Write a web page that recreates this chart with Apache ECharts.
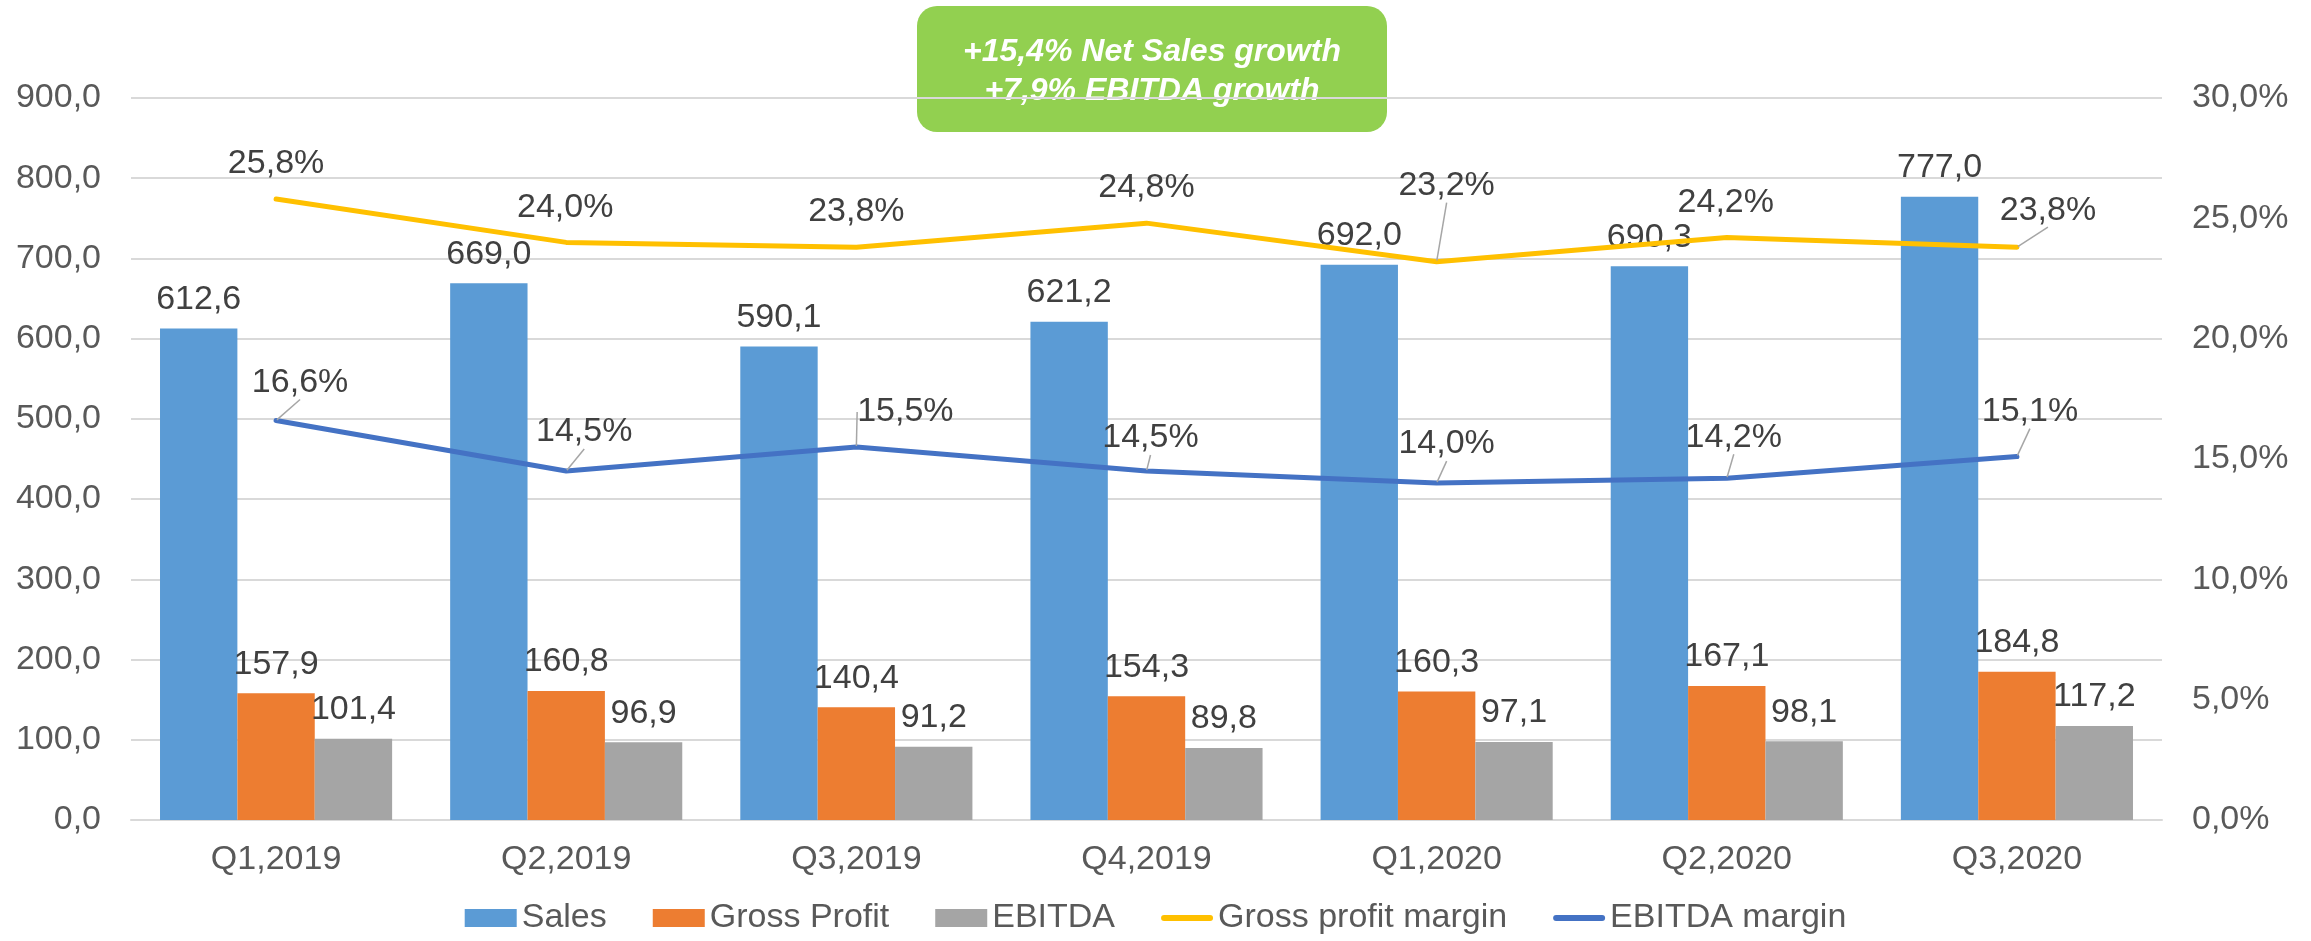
<!DOCTYPE html>
<html>
<head>
<meta charset="utf-8">
<script src="https://cdn.jsdelivr.net/npm/echarts@6/dist/echarts.min.js"></script>
<style>
  html, body { margin: 0; padding: 0; background: #fff; }
  #chart { width: 2311px; height: 941px; }
</style>
</head>
<body>
<div id="chart"></div>
<script>
// data
var quarters = ['Q1,2019', 'Q2,2019', 'Q3,2019', 'Q4,2019', 'Q1,2020', 'Q2,2020', 'Q3,2020'];
var sales = [612.6, 669.0, 590.1, 621.2, 692.0, 690.3, 777.0];
var grossProfit = [157.9, 160.8, 140.4, 154.3, 160.3, 167.1, 184.8];
var ebitda = [101.4, 96.9, 91.2, 89.8, 97.1, 98.1, 117.2];
var grossMargin = [25.8, 24.0, 23.8, 24.8, 23.2, 24.2, 23.8];
var ebitdaMargin = [16.6, 14.5, 15.5, 14.5, 14.0, 14.2, 15.1];
var headline = ['+15,4% Net Sales growth', '+7,9% EBITDA growth'];

// label nudges + which ones get a leader line (as placed in the original)
var grossLabelShift = [[0, -35], [-1, -35], [0, -36], [0, -36], [10, -76], [-1, -35], [31, -37]];
var grossLeader = [false, false, false, false, true, false, true];
var ebitdaLabelShift = [[24, -38], [18, -39], [49, -35], [4, -33], [10, -39], [7, -41], [13, -45]];
var ebitdaLeader = [true, true, true, true, true, true, true];

var FONT = '"Liberation Sans", Arial, sans-serif';
var FS = 34;

function fmt1(v) {
    return v.toFixed(1).replace('.', ',');
}

var myChart = echarts.init(document.getElementById('chart'));

function barSeries(name, data, color) {
    return {
        name: name,
        type: 'bar',
        data: data,
        barGap: '0%',
        barCategoryGap: '20%',
        itemStyle: { color: color },
        label: {
            show: true,
            position: 'top',
            distance: 12,
            color: '#404040',
            fontSize: FS,
            fontFamily: FONT,
            formatter: function (p) { return fmt1(p.value); }
        }
    };
}

function lineSeries(name, values, color, shift, leader) {
    return {
        name: name,
        type: 'line',
        yAxisIndex: 1,
        data: values.map(function (v, i) {
            return { value: v, labelLine: { show: leader[i] } };
        }),
        symbol: 'circle',
        symbolSize: 2,
        z: 5,
        lineStyle: { color: color, width: 5, cap: 'round', join: 'round' },
        itemStyle: { color: color },
        label: {
            show: true,
            position: 'top',
            distance: 0,
            color: '#404040',
            fontSize: FS,
            fontFamily: FONT,
            formatter: function (p) { return fmt1(p.value) + '%'; }
        },
        labelLine: {
            show: true,
            lineStyle: { color: '#a6a6a6', width: 1.5 }
        },
        labelLayout: function (p) {
            var s = shift[p.dataIndex];
            return { dx: s[0], dy: s[1] + 18 };
        }
    };
}

var lineIcon = 'path://M3,0 L49,0 A3,3 0 0 1 49,6 L3,6 A3,3 0 0 1 3,0 Z';

var option = {
    animation: false,
    backgroundColor: '#fff',
    textStyle: { fontFamily: FONT },
    grid: {
        left: 131,
        right: 149,
        top: 98,
        bottom: 121
    },
    legend: {
        bottom: 1,
        itemWidth: 52,
        itemHeight: 18,
        itemGap: 46,
        textStyle: { color: '#595959', fontSize: FS, fontFamily: FONT },
        data: [
            { name: 'Sales', icon: 'rect' },
            { name: 'Gross Profit', icon: 'rect' },
            { name: 'EBITDA', icon: 'rect' },
            { name: 'Gross profit margin', icon: lineIcon },
            { name: 'EBITDA margin', icon: lineIcon }
        ]
    },
    xAxis: {
        type: 'category',
        data: quarters,
        axisLine: { lineStyle: { color: '#d9d9d9', width: 2 } },
        axisTick: { show: false },
        axisLabel: { color: '#595959', fontSize: FS, fontFamily: FONT, margin: 23 }
    },
    yAxis: [
        {
            type: 'value',
            min: 0,
            max: 900,
            interval: 100,
            axisLine: { show: false },
            axisTick: { show: false },
            splitLine: { lineStyle: { color: '#d9d9d9', width: 2 } },
            axisLabel: {
                color: '#595959', fontSize: FS, fontFamily: FONT, margin: 30,
                formatter: function (v) { return fmt1(v); }
            }
        },
        {
            type: 'value',
            min: 0,
            max: 30,
            interval: 5,
            axisLine: { show: false },
            axisTick: { show: false },
            splitLine: { show: false },
            axisLabel: {
                color: '#595959', fontSize: FS, fontFamily: FONT, margin: 30,
                formatter: function (v) { return fmt1(v) + '%'; }
            }
        }
    ],
    series: [
        barSeries('Sales', sales, '#5b9bd5'),
        barSeries('Gross Profit', grossProfit, '#ed7d31'),
        barSeries('EBITDA', ebitda, '#a5a5a5'),
        lineSeries('Gross profit margin', grossMargin, '#ffc000', grossLabelShift, grossLeader),
        lineSeries('EBITDA margin', ebitdaMargin, '#4472c4', ebitdaLabelShift, ebitdaLeader)
    ],
    graphic: [
        {
            type: 'group',
            z: 100,
            children: [
                {
                    type: 'rect',
                    shape: { x: 917, y: 6, width: 470, height: 126, r: 20 },
                    style: { fill: '#92d050' }
                },
                {
                    type: 'text',
                    x: 1152,
                    y: 72,
                    style: {
                        text: headline.join('\n'),
                        font: 'italic bold 32px ' + FONT,
                        fill: '#ffffff',
                        align: 'center',
                        verticalAlign: 'middle',
                        textAlign: 'center',
                        textVerticalAlign: 'middle',
                        lineHeight: 39
                    }
                }
            ]
        }
    ]
};

option && myChart.setOption(option);

window.addEventListener('resize', function () {
    myChart.resize();
});
</script>
</body>
</html>
